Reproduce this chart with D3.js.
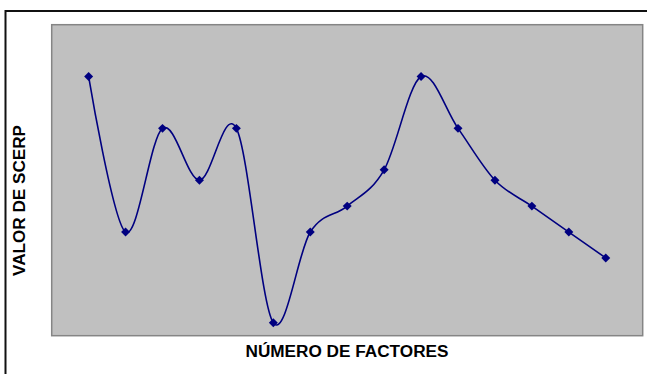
<!DOCTYPE html>
<html><head><meta charset="utf-8">
<script src="https://cdn.jsdelivr.net/npm/d3@7"></script>
<style>html,body{margin:0;padding:0;background:#fff;}svg{display:block;}</style>
</head><body>
<svg id="chart" width="647" height="374"></svg>
<script>
const factors = [1,2,3,4,5,6,7,8,9,10,11,12,13,14,15];
const scerp = [5, 2, 4, 3, 4, 0.25, 2, 2.5, 3.2, 5, 4, 3, 2.5, 2, 1.5];
const xTitle = "NÚMERO DE FACTORES";
const yTitle = "VALOR DE SCERP";

const svg = d3.select("#chart");
const plot = {left: 51.7, top: 24.7, right: 642.7, bottom: 335.7};

// outer border (chart area)
svg.append("rect").attr("x",5.5).attr("y",11).attr("width",660).attr("height",400)
  .attr("fill","#fff").attr("stroke","#111").attr("stroke-width",2);

// plot area
svg.append("rect").attr("x",plot.left).attr("y",plot.top)
  .attr("width",plot.right-plot.left).attr("height",plot.bottom-plot.top)
  .attr("fill","#C0C0C0").attr("stroke","#858585").attr("stroke-width",1.5);

const x = d3.scaleLinear().domain([0,16]).range([plot.left, plot.right]);
const y = d3.scaleLinear().domain([0,6]).range([plot.bottom, plot.top]);

const data = factors.map((f,i)=>({f, v: scerp[i]}));

const line = d3.line().x(d=>x(d.f)).y(d=>y(d.v)).curve(d3.curveCardinal.tension(0));
svg.append("path").datum(data).attr("d", line)
  .attr("fill","none").attr("stroke","#000080").attr("stroke-width",1.6);

const sym = d3.symbol().type(d3.symbolSquare).size(40);
svg.selectAll(".pt").data(data).join("path").attr("class","pt")
  .attr("d", sym)
  .attr("transform", d=>`translate(${x(d.f)},${y(d.v)}) rotate(45)`)
  .attr("fill","#000080");

svg.append("text").attr("x",347).attr("y",356.5).attr("text-anchor","middle")
  .attr("font-family","'Liberation Sans', Arial, sans-serif").attr("font-weight","bold")
  .attr("font-size",16).attr("fill","#000")
  .attr("textLength",203).attr("lengthAdjust","spacingAndGlyphs")
  .text(xTitle);

svg.append("text").attr("transform","translate(24.5,200.5) rotate(-90)")
  .attr("text-anchor","middle")
  .attr("font-family","'Liberation Sans', Arial, sans-serif").attr("font-weight","bold")
  .attr("font-size",16).attr("fill","#000")
  .attr("textLength",151).attr("lengthAdjust","spacingAndGlyphs")
  .text(yTitle);
</script>
</body></html>
